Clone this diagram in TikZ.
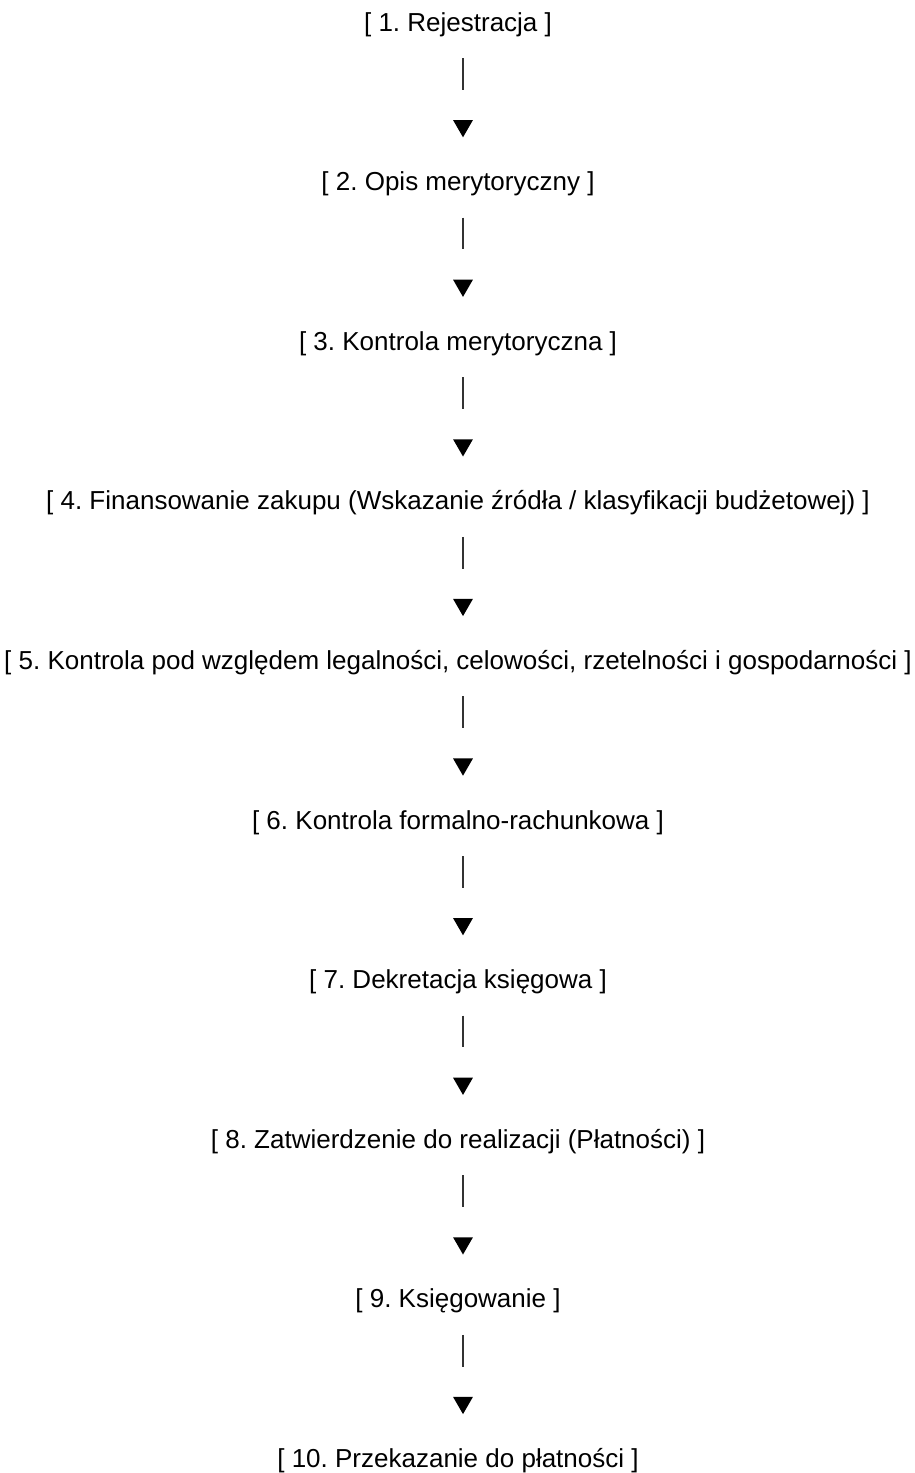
\documentclass[tikz,border=0pt]{standalone}
\usepackage{fontspec}
\setmainfont{Liberation Sans}
\usepackage{tikz}
\usetikzlibrary{calc}
\usetikzlibrary{shapes.geometric}
\frenchspacing
\definecolor{stemgray}{rgb}{0.2,0.2,0.2}
\tikzstyle{every node}=[font=\fontsize{26}{31}\selectfont]
\tikzstyle{steptext}=[anchor=base,inner sep=0pt]
\tikzstyle{stem}=[line width=1.6pt,color=stemgray]
\tikzstyle{tip}=[regular polygon,regular polygon sides=3,shape border rotate=180,fill=black,inner sep=0pt,minimum size=23pt]

\begin{document}
\begin{tikzpicture}[line cap=butt,line join=round,x=1pt,y=1pt]
            \useasboundingbox (0,0) rectangle (915,-1473);
            \foreach \lbl [count=\i] in {{[ 1. Rejestracja ]},{[ 2. Opis merytoryczny ]},{[ 3. Kontrola merytoryczna ]},{[ 4. Finansowanie zakupu (Wskazanie źródła / klasyfikacji budżetowej) ]},{[ 5. Kontrola pod względem legalności, celowości, rzetelności i gospodarności ]},{[ 6. Kontrola formalno-rachunkowa ]},{[ 7. Dekretacja księgowa ]},{[ 8. Zatwierdzenie do realizacji (Płatności) ]},{[ 9. Księgowanie ]},{[ 10. Przekazanie do płatności ]}}
            {
                \node [steptext] (s\i) at (458,{-31-159.6*(\i-1)}) {\lbl};
            }
            \foreach \i in {1,...,9}
            {
                \node [tip] (a\i) at ($(463,0)+(0,{-31-159.6*(\i-1)-94.8})$) {};
                \draw [stem,shorten <=27pt,shorten >=30pt] (s\i.base -| a\i.north) -- (a\i.north);
            }
\end{tikzpicture}
\end{document}
